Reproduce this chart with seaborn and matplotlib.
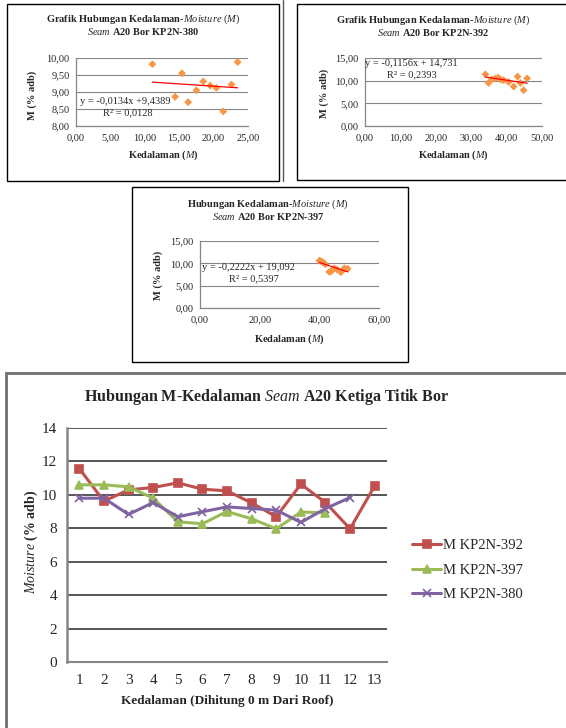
"""Hubungan kedalaman - moisture, seam A20 (tiga titik bor)"""
import matplotlib
matplotlib.use("Agg")
import matplotlib.pyplot as plt
import seaborn as sns
from matplotlib.lines import Line2D
from matplotlib.patches import Rectangle
from matplotlib.ticker import FuncFormatter

# ---- data: scatter per bor (kedalaman m, moisture % adb) ----
depth_380 = [11.1, 14.4, 15.4, 16.3, 17.5, 18.5, 19.5, 20.4, 21.4, 22.6, 23.5]
moist_380 = [9.82, 8.86, 9.55, 8.70, 9.05, 9.31, 9.19, 9.12, 8.43, 9.22, 9.88]

depth_392 = [34.0, 34.9, 35.8, 36.8, 37.6, 38.4, 39.2, 40.6, 42.0, 43.1, 43.9, 44.8, 45.8]
moist_392 = [11.4, 9.5, 10.3, 10.5, 10.7, 10.2, 10.1, 9.7, 8.7, 10.9, 9.5, 7.9, 10.5]

depth_397 = [40.0, 40.6, 41.3, 42.0, 43.3, 44.0, 45.0, 46.0, 47.2, 48.4, 49.5]
moist_397 = [10.6, 10.5, 10.2, 9.8, 8.1, 8.2, 8.9, 8.6, 8.0, 8.9, 8.8]

# trendline coefficients (from chart labels)
trend_380 = (-0.0134, 9.4389)
trend_392 = (-0.1156, 14.731)
trend_397 = (-0.2222, 19.092)

# ---- data: line chart of the three bor ----
titik = list(range(1, 14))
m_kp2n_392 = [11.57, 9.62, 10.30, 10.44, 10.72, 10.34, 10.24, 9.52, 8.69, 10.64, 9.54, 7.97, 10.54]
m_kp2n_397 = [10.60, 10.60, 10.48, 9.80, 8.39, 8.27, 9.00, 8.57, 7.97, 8.97, 8.93]
m_kp2n_380 = [9.80, 9.80, 8.83, 9.54, 8.69, 8.99, 9.28, 9.18, 9.09, 8.35, 9.18, 9.84]
series_names = ["M KP2N-392", "M KP2N-397", "M KP2N-380"]
series_colors = ["#C0504D", "#9BBB59", "#8064A2"]
series_markers = ["s", "^", "x"]

sns.set_style("white")
plt.rcParams["font.family"] = ["Liberation Serif", "DejaVu Serif"]
plt.rcParams["mathtext.fontset"] = "custom"
plt.rcParams["mathtext.rm"] = "Liberation Serif"
plt.rcParams["mathtext.it"] = "Liberation Serif:italic"
plt.rcParams["mathtext.bf"] = "Liberation Serif:bold"

W, H = 566, 728
fig = plt.figure(figsize=(W / 100, H / 100), dpi=100)


def rect(l, t, r, b):
    return [l / W, 1 - b / H, (r - l) / W, (b - t) / H]


def ftext(x, y, s, **kw):
    fig.text(x / W, 1 - y / H, s, **kw)


def comma(v, pos):
    return f"{v:.2f}".replace(".", ",")


def box(l, t, r, b, color="black", lw=1.0):
    fig.patches.append(Rectangle((l / W, 1 - b / H), (r - l) / W, (b - t) / H,
                                 transform=fig.transFigure, fill=False,
                                 edgecolor=color, lw=lw))


def small_chart(area, depth, moist, trend, xlim, xticks, ylim, yticks):
    ax = fig.add_axes(rect(*area))
    sns.scatterplot(x=depth, y=moist, marker="D", color="#F79646", s=16,
                    edgecolor="none", ax=ax, zorder=3)
    xs = [min(depth), max(depth)]
    ys = [trend[0] * v + trend[1] for v in xs]
    sns.lineplot(x=xs, y=ys, color="red", lw=0.9, ax=ax, zorder=4)
    ax.set_xlim(*xlim)
    ax.set_ylim(*ylim)
    ax.set_xticks(xticks)
    ax.set_yticks(yticks)
    ax.xaxis.set_major_formatter(FuncFormatter(comma))
    ax.yaxis.set_major_formatter(FuncFormatter(comma))
    ax.yaxis.grid(True, color="#868686", lw=0.8)
    ax.set_axisbelow(True)
    for s in ["top", "right"]:
        ax.spines[s].set_visible(False)
    for s in ["left", "bottom"]:
        ax.spines[s].set_color("#868686")
        ax.spines[s].set_linewidth(0.9)
    ax.tick_params(labelsize=7.5, length=2.5, width=0.8, color="#868686", pad=2)
    ax.tick_params(axis="x", length=0, pad=5)
    ax.set_xlabel("")
    ax.set_ylabel("")
    return ax


# ---- top-left: KP2N-380 ----
small_chart((76, 58, 248, 126), depth_380, moist_380, trend_380,
            (0, 25), [0, 5, 10, 15, 20, 25], (8, 10), [8, 8.5, 9, 9.5, 10])
ftext(143, 25, "Grafik Hubungan Kedalaman-$\\mathit{Moisture\\ (M)}$\n$\\mathit{Seam}$ A20 Bor KP2N-380",
      ha="center", va="center", fontsize=7.5, fontweight="bold", linespacing=1.0)
ftext(163, 155, "Kedalaman ($\\mathit{M}$)", ha="center", va="center", fontsize=7.5, fontweight="bold")
ftext(32, 95, "M (% adb)", ha="center", va="center", rotation=90, fontsize=7.5, fontweight="bold")
ftext(80, 101, "y = -0,0134x +9,4389", ha="left", va="center", fontsize=7.5)
ftext(103, 113, "R² = 0,0128", ha="left", va="center", fontsize=7.5)

# ---- top-right: KP2N-392 ----
small_chart((365, 58, 542, 126), depth_392, moist_392, trend_392,
            (0, 50), [0, 10, 20, 30, 40, 50], (0, 15), [0, 5, 10, 15])
ftext(433, 26, "Grafik Hubungan Kedalaman-$\\mathit{Moisture\\ (M)}$\n$\\mathit{Seam}$ A20 Bor KP2N-392",
      ha="center", va="center", fontsize=7.5, fontweight="bold", linespacing=1.0)
ftext(453, 155, "Kedalaman ($\\mathit{M}$)", ha="center", va="center", fontsize=7.5, fontweight="bold")
ftext(324, 93, "M (% adb)", ha="center", va="center", rotation=90, fontsize=7.5, fontweight="bold")
ftext(365, 63, "y = -0,1156x + 14,731", ha="left", va="center", fontsize=7.5)
ftext(387, 75, "R² = 0,2393", ha="left", va="center", fontsize=7.5)

# ---- middle: KP2N-397 ----
small_chart((200, 241, 379, 308), depth_397, moist_397, trend_397,
            (0, 60), [0, 20, 40, 60], (0, 15), [0, 5, 10, 15])
ftext(268, 210, "Hubungan Kedalaman-$\\mathit{Moisture\\ (M)}$\n$\\mathit{Seam}$ A20 Bor KP2N-397",
      ha="center", va="center", fontsize=7.5, fontweight="bold", linespacing=1.0)
ftext(289, 339, "Kedalaman ($\\mathit{M}$)", ha="center", va="center", fontsize=7.5, fontweight="bold")
ftext(158, 275, "M (% adb)", ha="center", va="center", rotation=90, fontsize=7.5, fontweight="bold")
ftext(202, 267, "y = -0,2222x + 19,092", ha="left", va="center", fontsize=7.5)
ftext(229, 279, "R² = 0,5397", ha="left", va="center", fontsize=7.5)

# ---- bottom: line chart ----
ax = fig.add_axes(rect(67, 428, 387, 662))
for name, vals, c, m in zip(series_names, [m_kp2n_392, m_kp2n_397, m_kp2n_380],
                            series_colors, series_markers):
    sns.lineplot(x=titik[:len(vals)], y=vals, color=c, marker=m, lw=2.2,
                 markersize=6, markeredgewidth=1.2, markeredgecolor=c,
                 label=name, ax=ax, legend=False)
ax.set_xlim(0.5, 13.5)
ax.set_ylim(0, 14)
ax.set_xticks(titik)
ax.set_yticks([0, 2, 4, 6, 8, 10, 12, 14])
ax.yaxis.grid(True, color="#3a3a3a", lw=1.2)
ax.set_axisbelow(True)
for s in ["top", "right"]:
    ax.spines[s].set_visible(False)
ax.spines["left"].set_color("#868686")
ax.spines["left"].set_linewidth(1.8)
ax.spines["bottom"].set_color("#868686")
ax.spines["bottom"].set_linewidth(1.5)
ax.tick_params(axis="y", labelsize=11, length=4, width=1.2, color="#868686", pad=3)
ax.tick_params(axis="x", labelsize=11, length=0, pad=9)
ax.set_xlabel("")
ax.set_ylabel("")

handles = [Line2D([], [], color=c, marker=m, lw=2.2, markersize=6, markeredgewidth=1.2)
           for c, m in zip(series_colors, series_markers)]
fig.legend(handles, series_names, loc="center left",
           bbox_to_anchor=(399 / W, 1 - 570 / H), frameon=False, fontsize=10.5,
           handlelength=2.0, handletextpad=0.1, labelspacing=0.8)

ftext(267, 397, "Hubungan M-Kedalaman $\\mathit{Seam}$ A20 Ketiga Titik Bor",
      ha="center", va="center", fontsize=11.5, fontweight="bold")
ftext(227, 701, "Kedalaman (Dihitung 0 m Dari Roof)", ha="center", va="center",
      fontsize=9.5, fontweight="bold")
ftext(31, 542, "$\\mathit{Moisture}$ (% adb)", ha="center", va="center", rotation=90,
      fontsize=10, fontweight="bold")

# chart frames
box(7, 4, 279, 181)
fig.lines.append(Line2D([283 / W, 283 / W], [1.0, 1 - 181 / H], transform=fig.transFigure,
                        color="#555555", lw=1.0))
box(297, 4, 570, 180)
box(132, 187, 408, 362)
box(6, 373, 570, 735, color="#707070", lw=2.0)

fig.savefig("out.png", dpi=100)
